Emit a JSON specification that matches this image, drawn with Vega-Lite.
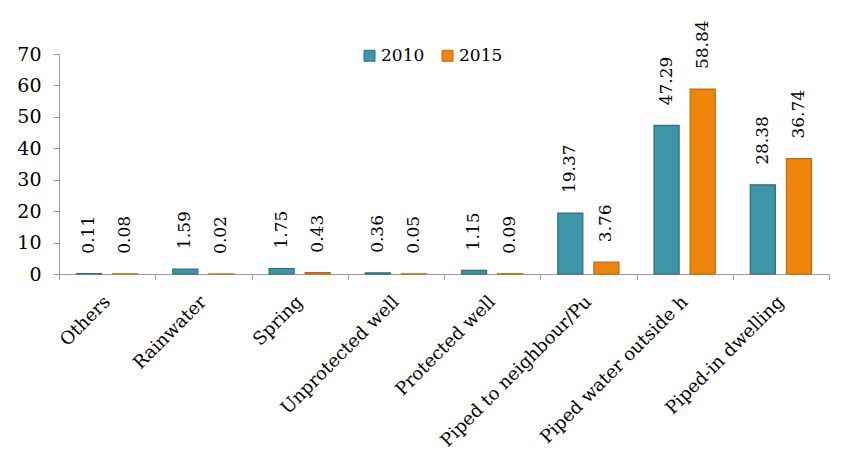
{
  "$schema": "https://vega.github.io/schema/vega-lite/v6.json",
  "autosize": {"type": "none"},
  "padding": {"left": 59, "top": 54, "right": 12, "bottom": 187},
  "width": 770,
  "height": 220,
  "background": "white",
  "data": {
    "values": [
      {"source": "Others", "year": "2010", "value": 0.11},
      {"source": "Others", "year": "2015", "value": 0.08},
      {"source": "Rainwater", "year": "2010", "value": 1.59},
      {"source": "Rainwater", "year": "2015", "value": 0.02},
      {"source": "Spring", "year": "2010", "value": 1.75},
      {"source": "Spring", "year": "2015", "value": 0.43},
      {"source": "Unprotected well", "year": "2010", "value": 0.36},
      {"source": "Unprotected well", "year": "2015", "value": 0.05},
      {"source": "Protected well", "year": "2010", "value": 1.15},
      {"source": "Protected well", "year": "2015", "value": 0.09},
      {"source": "Piped to neighbour/Pu", "year": "2010", "value": 19.37},
      {"source": "Piped to neighbour/Pu", "year": "2015", "value": 3.76},
      {"source": "Piped water outside h", "year": "2010", "value": 47.29},
      {"source": "Piped water outside h", "year": "2015", "value": 58.84},
      {"source": "Piped-in dwelling", "year": "2010", "value": 28.38},
      {"source": "Piped-in dwelling", "year": "2015", "value": 36.74}
    ]
  },
  "encoding": {
    "x": {
      "field": "source",
      "type": "nominal",
      "sort": null,
      "scale": {"paddingInner": 0, "paddingOuter": 0},
      "axis": {
        "title": null,
        "labelAngle": -45,
        "labelAlign": "right",
        "labelBaseline": "middle",
        "labelPadding": 20,
        "labelFont": "DejaVu Serif",
        "labelFontSize": 18,
        "labelColor": "black",
        "labelLimit": 400,
        "tickBand": "extent",
        "tickSize": 5,
        "tickColor": "#999999",
        "domainColor": "#999999",
        "grid": false
      }
    },
    "xOffset": {
      "field": "year",
      "type": "nominal",
      "scale": {"paddingInner": 0.3056, "paddingOuter": 0.486}
    },
    "y": {
      "field": "value",
      "type": "quantitative",
      "scale": {"domain": [0, 70]},
      "axis": {
        "title": null,
        "values": [0, 10, 20, 30, 40, 50, 60, 70],
        "grid": false,
        "labelFont": "DejaVu Serif",
        "labelFontSize": 19,
        "labelColor": "black",
        "labelPadding": 12,
        "tickSize": 6,
        "tickColor": "#999999",
        "domainColor": "#999999"
      }
    }
  },
  "layer": [
    {
      "mark": {"type": "bar", "strokeWidth": 1.2},
      "encoding": {
        "fill": {
          "field": "year",
          "type": "nominal",
          "scale": {"domain": ["2010", "2015"], "range": ["#3d95aa", "#ef850a"]},
          "legend": {
            "title": null,
            "orient": "none",
            "direction": "horizontal",
            "legendX": 302,
            "legendY": -7,
            "padding": 0,
            "symbolType": "square",
            "symbolSize": 121,
            "symbolStrokeWidth": 1,
            "labelFont": "DejaVu Serif",
            "labelFontSize": 17,
            "labelColor": "black",
            "labelOffset": 3,
            "columnPadding": 14
          }
        },
        "stroke": {
          "field": "year",
          "type": "nominal",
          "scale": {"domain": ["2010", "2015"], "range": ["#2c6f80", "#c06a08"]},
          "legend": {
            "title": null,
            "orient": "none",
            "direction": "horizontal",
            "legendX": 302,
            "legendY": -7,
            "padding": 0,
            "symbolType": "square",
            "symbolSize": 121,
            "symbolStrokeWidth": 1,
            "labelFont": "DejaVu Serif",
            "labelFontSize": 17,
            "labelColor": "black",
            "labelOffset": 3,
            "columnPadding": 14
          }
        }
      }
    },
    {
      "mark": {
        "type": "text",
        "angle": 270,
        "align": "left",
        "baseline": "middle",
        "dx": 20,
        "font": "DejaVu Serif",
        "fontSize": 17,
        "color": "black"
      },
      "encoding": {
        "text": {"field": "value", "type": "quantitative", "format": ".2f"}
      }
    }
  ],
  "config": {
    "view": {"stroke": null}
  }
}
